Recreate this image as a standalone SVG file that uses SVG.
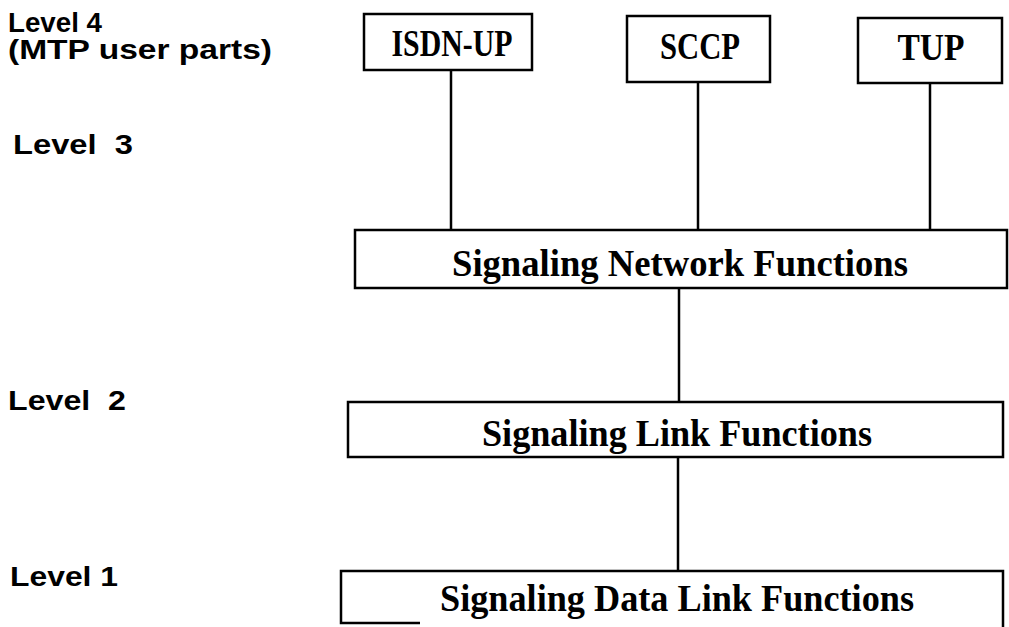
<svg xmlns="http://www.w3.org/2000/svg" width="1009" height="627" viewBox="0 0 1009 627">
<style>
.box{fill:#fff;stroke:#000;stroke-width:2.5}
.t{font-family:"Liberation Serif","Times New Roman",serif;font-weight:bold;font-size:38px;text-anchor:middle;fill:#000}
.lbl{font-family:"Liberation Sans",Arial,sans-serif;font-weight:bold;font-size:27px;fill:#000}
.ln{stroke:#000;stroke-width:2.5;fill:none}
</style>
<rect width="1009" height="627" fill="#fff"/>
<g id="labels">
<text class="lbl" x="8" y="32" textLength="94" lengthAdjust="spacingAndGlyphs">Level 4</text>
<text class="lbl" x="8" y="59" textLength="264" lengthAdjust="spacingAndGlyphs">(MTP user parts)</text>
<text class="lbl" x="13" y="154" textLength="120" lengthAdjust="spacingAndGlyphs" xml:space="preserve">Level  3</text>
<text class="lbl" x="8" y="410" textLength="118" lengthAdjust="spacingAndGlyphs" xml:space="preserve">Level  2</text>
<text class="lbl" x="10" y="586" textLength="108" lengthAdjust="spacingAndGlyphs">Level 1</text>
</g>
<g id="connectors">
<line class="ln" x1="451" y1="70" x2="451" y2="230"/>
<line class="ln" x1="698" y1="82" x2="698" y2="230"/>
<line class="ln" x1="930" y1="83" x2="930" y2="231"/>
<line class="ln" x1="679" y1="288" x2="679" y2="402"/>
<line class="ln" x1="678" y1="457" x2="678" y2="571"/>
</g>
<g id="isdn-up"><rect class="box" x="364" y="14" width="168" height="56"/><text class="t" x="452" y="56" textLength="121" lengthAdjust="spacingAndGlyphs">ISDN-UP</text></g>
<g id="sccp"><rect class="box" x="627" y="16" width="143" height="66"/><text class="t" x="700" y="59" textLength="80" lengthAdjust="spacingAndGlyphs">SCCP</text></g>
<g id="tup"><rect class="box" x="858" y="18" width="144" height="65"/><text class="t" x="931" y="60" textLength="67" lengthAdjust="spacingAndGlyphs">TUP</text></g>
<g id="snf"><rect class="box" x="355" y="230" width="652" height="58"/><text class="t" x="680" y="276" textLength="456" lengthAdjust="spacingAndGlyphs">Signaling Network Functions</text></g>
<g id="slf"><rect class="box" x="348" y="402" width="655" height="55"/><text class="t" x="677" y="446" textLength="390" lengthAdjust="spacingAndGlyphs">Signaling Link Functions</text></g>
<g id="sdlf"><path class="ln" d="M420 623 H341 V571 H1003 V627"/><text class="t" x="677" y="611" textLength="474" lengthAdjust="spacingAndGlyphs">Signaling Data Link Functions</text></g>
</svg>
